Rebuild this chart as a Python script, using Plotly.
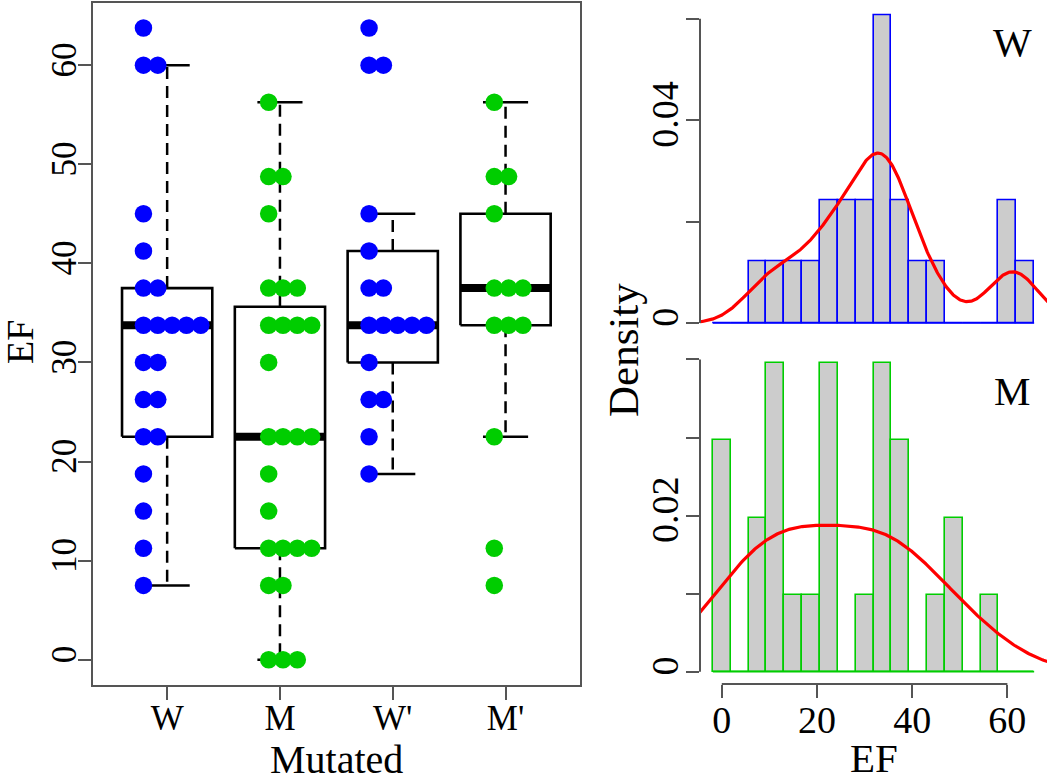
import numpy as np
import plotly.graph_objects as go

# ---------------- data ----------------
groups = ["W", "M", "W'", "M'"]
ef_W = [63.75, 60, 60, 45, 41.25, 37.5, 37.5, 33.75, 33.75, 33.75, 33.75, 33.75,
        30, 30, 26.25, 26.25, 22.5, 22.5, 18.75, 15, 11.25, 7.5]
ef_M = [56.25, 48.75, 48.75, 45, 37.5, 37.5, 37.5, 33.75, 33.75, 33.75, 33.75, 30,
        22.5, 22.5, 22.5, 22.5, 18.75, 15, 11.25, 11.25, 11.25, 11.25, 7.5, 7.5, 0, 0, 0]
ef_Wp = [63.75, 60, 60, 45, 41.25, 37.5, 37.5, 33.75, 33.75, 33.75, 33.75, 33.75,
         30, 26.25, 26.25, 22.5, 18.75]
ef_Mp = [56.25, 48.75, 48.75, 45, 37.5, 37.5, 37.5, 33.75, 33.75, 33.75, 22.5, 11.25, 7.5]
group_values = [ef_W, ef_M, ef_Wp, ef_Mp]

ef_ticks = [0, 10, 20, 30, 40, 50, 60]
hist_x_ticks = [0, 20, 40, 60]
dens_ticks_W = [0, 0.02, 0.04, 0.06]
dens_labels_W = ["0", "", "0.04", ""]
dens_ticks_M = [0, 0.01, 0.02, 0.03, 0.04]
dens_labels_M = ["0", "", "0.02", "", ""]
hist_labels = ["W", "M"]

bin_width = 3.75
bin_first = -1.875
bin_last = 65.625
kde_bw = [5.09, 10.0]   # bandwidths for W and M density curves

# ---------------- style ----------------
BLUE = "#0000FF"
GREEN = "#00CD00"
group_colors = [BLUE, GREEN, BLUE, GREEN]
stack_offset = [-0.21, -0.10, -0.21, -0.10]
stack_step = 0.127
FONT = "Liberation Serif"
AX = "#555555"
W_PX, H_PX = 1050, 781


def fivenum(v):
    x = np.sort(np.asarray(v, float))
    n = len(x)
    n4 = np.floor((n + 3) / 2) / 2
    d = np.array([1, n4, (n + 1) / 2, n + 1 - n4, n]) - 1
    return 0.5 * (x[np.floor(d).astype(int)] + x[np.ceil(d).astype(int)])


def ext(lo, hi, f=0.04):
    r = hi - lo
    return [lo - f * r, hi + f * r]


def kde(vals, bw, grid):
    v = np.asarray(vals, float)
    z = (grid[:, None] - v[None, :]) / bw
    return np.exp(-0.5 * z ** 2).sum(axis=1) / (len(v) * bw * np.sqrt(2 * np.pi))


fig = go.Figure()

# ---------------- left: box plots ----------------
bx, by, mx, my, wx, wy, cx, cy = [], [], [], [], [], [], [], []
for gi, vals in enumerate(group_values, start=1):
    mn, q1, med, q3, mxv = fivenum(vals)
    iqr = q3 - q1
    arr = np.asarray(vals, float)
    upw = arr[arr <= q3 + 1.5 * iqr].max()
    low = arr[arr >= q1 - 1.5 * iqr].min()
    bx += [gi - 0.4, gi + 0.4, gi + 0.4, gi - 0.4, gi - 0.4, None]
    by += [q1, q1, q3, q3, q1, None]
    mx += [gi - 0.4, gi + 0.4, None]
    my += [med, med, None]
    wx += [gi, gi, None, gi, gi, None]
    wy += [q3, upw, None, q1, low, None]
    cx += [gi - 0.2, gi + 0.2, None, gi - 0.2, gi + 0.2, None]
    cy += [upw, upw, None, low, low, None]

common = dict(mode="lines", hoverinfo="skip", showlegend=False, xaxis="x", yaxis="y")
fig.add_trace(go.Scatter(x=wx, y=wy, line=dict(color="black", width=2.5, dash="12px,7px"), **common))
fig.add_trace(go.Scatter(x=cx, y=cy, line=dict(color="black", width=2.5), **common))
fig.add_trace(go.Scatter(x=bx, y=by, line=dict(color="black", width=2.6), **common))
fig.add_trace(go.Scatter(x=mx, y=my, line=dict(color="black", width=8), **common))

# stacked strip points
for gi, vals in enumerate(group_values, start=1):
    px, py = [], []
    uniq, cnt = np.unique(np.asarray(vals, float), return_counts=True)
    for u, c in zip(uniq, cnt):
        for k in range(c):
            px.append(gi + stack_offset[gi - 1] + k * stack_step)
            py.append(u)
    fig.add_trace(go.Scatter(x=px, y=py, mode="markers", hoverinfo="skip", showlegend=False,
                             marker=dict(color=group_colors[gi - 1], size=17.5, line=dict(width=0)),
                             xaxis="x", yaxis="y"))

all_vals = np.concatenate([np.asarray(v, float) for v in group_values])
left_yrange = ext(all_vals.min(), all_vals.max())
left_xrange = ext(0.5, len(groups) + 0.5)

# ---------------- right: histograms ----------------
edges = np.arange(bin_first, bin_last + 1e-9, bin_width)
centers = (edges[:-1] + edges[1:]) / 2
hist_xrange = ext(edges[0], edges[-1])
hist_data = [ef_W, ef_M]
hist_colors = [BLUE, GREEN]
hist_axes = [("x2", "y2"), ("x3", "y3")]
dens_max = []
for i, vals in enumerate(hist_data):
    counts, _ = np.histogram(np.asarray(vals, float), bins=edges)
    dens = counts / (len(vals) * bin_width)
    dens_max.append(dens.max())
    xa, ya = hist_axes[i]
    fig.add_trace(go.Scatter(x=[edges[0], edges[-1]], y=[0, 0], mode="lines", hoverinfo="skip",
                             showlegend=False, line=dict(color=hist_colors[i], width=1.6),
                             xaxis=xa, yaxis=ya))
    fig.add_trace(go.Bar(x=centers, y=dens, width=bin_width, hoverinfo="skip", showlegend=False,
                         marker=dict(color="#CCCCCC", line=dict(color=hist_colors[i], width=1.6)),
                         xaxis=xa, yaxis=ya))
    v = np.asarray(vals, float)
    grid = np.linspace(v.min() - 3 * kde_bw[i], v.max() + 3 * kde_bw[i], 512)
    fig.add_trace(go.Scatter(x=grid, y=kde(v, kde_bw[i], grid), mode="lines", hoverinfo="skip",
                             showlegend=False, line=dict(color="#FF0000", width=3.2),
                             xaxis=xa, yaxis=ya))

yr_W = ext(0, dens_max[0])
yr_M = ext(0, dens_max[1])


def frac(v, r):
    return (v - r[0]) / (r[1] - r[0])


# layout domains (pixels -> paper)
L_X = [92.7 / W_PX, 580 / W_PX]
L_Y = [1 - 685 / H_PX, 1 - 2.7 / H_PX]
R_X = [700 / W_PX, 1047 / W_PX]
RW_Y = [1 - 335.3 / H_PX, 1 - 3.3 / H_PX]
RM_Y = [1 - 684 / H_PX, 1 - 351 / H_PX]

tickfont_L = dict(family=FONT, size=35, color="black")
tickfont_R = dict(family=FONT, size=38, color="black")

fig.update_layout(
    width=W_PX, height=H_PX, margin=dict(l=0, r=0, t=0, b=0),
    paper_bgcolor="white", plot_bgcolor="white", bargap=0, barmode="overlay",
    font=dict(family=FONT, color="black"),
    xaxis=dict(domain=L_X, range=left_xrange, anchor="y", showgrid=False, zeroline=False,
               showline=True, mirror=True, linecolor=AX, linewidth=2,
               tickmode="array", tickvals=list(range(1, len(groups) + 1)), ticktext=groups,
               ticks="outside", ticklen=13, tickwidth=2, tickcolor=AX, tickfont=tickfont_L,
               ticklabelstandoff=-12),
    yaxis=dict(domain=L_Y, range=left_yrange, anchor="x", showgrid=False, zeroline=False,
               showline=True, mirror=True, linecolor=AX, linewidth=2,
               tickmode="array", tickvals=ef_ticks, ticktext=[str(t) for t in ef_ticks],
               ticks="outside", ticklen=13, tickwidth=2, tickcolor=AX, tickfont=tickfont_L,
               tickangle=-90, ticklabelstandoff=-12),
    xaxis2=dict(domain=R_X, range=hist_xrange, anchor="y2", showgrid=False, zeroline=False,
                showline=False, showticklabels=False, ticks=""),
    yaxis2=dict(domain=RW_Y, range=yr_W, anchor="x2", showgrid=False, zeroline=False,
                showline=False, tickmode="array", tickvals=dens_ticks_W, ticktext=dens_labels_W,
                ticks="outside", ticklen=13, tickwidth=2, tickcolor=AX, tickfont=tickfont_R,
                tickangle=-90, ticklabelstandoff=-7),
    xaxis3=dict(domain=R_X, range=hist_xrange, anchor="y3", showgrid=False, zeroline=False,
                showline=False, tickmode="array", tickvals=hist_x_ticks,
                ticktext=[str(t) for t in hist_x_ticks],
                ticks="outside", ticklen=13, tickwidth=2, tickcolor=AX, tickfont=tickfont_R,
                ticklabelstandoff=-11),
    yaxis3=dict(domain=RM_Y, range=yr_M, anchor="x3", showgrid=False, zeroline=False,
                showline=False, tickmode="array", tickvals=dens_ticks_M, ticktext=dens_labels_M,
                ticks="outside", ticklen=13, tickwidth=2, tickcolor=AX, tickfont=tickfont_R,
                tickangle=-90, ticklabelstandoff=-7),
)

# R-style axis lines spanning first..last tick
shapes = [
    dict(type="line", xref="x2 domain", yref="y2 domain", x0=0, x1=0,
         y0=frac(dens_ticks_W[0], yr_W), y1=frac(dens_ticks_W[-1], yr_W),
         line=dict(color=AX, width=2)),
    dict(type="line", xref="x3 domain", yref="y3 domain", x0=0, x1=0,
         y0=frac(dens_ticks_M[0], yr_M), y1=frac(dens_ticks_M[-1], yr_M),
         line=dict(color=AX, width=2)),
    dict(type="line", xref="x3 domain", yref="y3 domain", y0=0, y1=0,
         x0=frac(hist_x_ticks[0], hist_xrange), x1=frac(hist_x_ticks[-1], hist_xrange),
         line=dict(color=AX, width=2)),
]
fig.update_layout(shapes=shapes)

ann = [
    dict(text="EF", x=20 / W_PX, y=1 - 342 / H_PX, textangle=-90, font=dict(size=38)),
    dict(text="Mutated", x=336 / W_PX, y=1 - 759 / H_PX, font=dict(size=40)),
    dict(text="Density", x=623 / W_PX, y=1 - 350 / H_PX, textangle=-90, font=dict(size=43)),
    dict(text="EF", x=874 / W_PX, y=1 - 758 / H_PX, font=dict(size=41)),
    dict(text=hist_labels[0], x=1012 / W_PX, y=1 - 42 / H_PX, font=dict(size=41)),
    dict(text=hist_labels[1], x=1012 / W_PX, y=1 - 391 / H_PX, font=dict(size=41)),
]
for a in ann:
    a.update(xref="paper", yref="paper", showarrow=False, xanchor="center", yanchor="middle")
    a["font"].update(family=FONT, color="black")
fig.update_layout(annotations=ann)

fig.write_html("out.html", config={"displayModeBar": False},
               post_script="document.body.style.margin='0';document.body.style.overflow='hidden';")
